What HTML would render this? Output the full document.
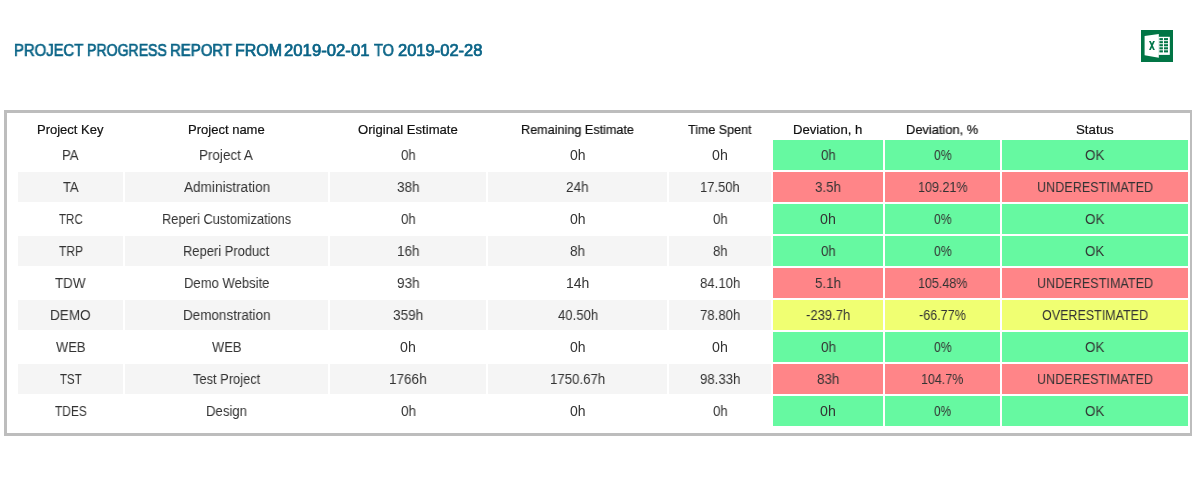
<!DOCTYPE html>
<html><head><meta charset="utf-8"><style>
html,body{margin:0;padding:0;background:#fff;width:1192px;height:479px;overflow:hidden;position:relative;}
body{font-family:"Liberation Sans",sans-serif;color:#333;}
span{position:absolute;white-space:nowrap;transform-origin:0 50%;will-change:transform;}
.tw{top:41px;font-size:16px;line-height:20px;color:#0a6487;-webkit-text-stroke:0.7px #0a6487;}
.box{position:absolute;left:4px;top:110px;width:1183px;height:320px;border:3px solid #bdbdbd;}
.c{position:absolute;height:30px;}
.b{font-size:14px;line-height:30px;height:30px;color:#333;}
.h{font-size:13px;line-height:18px;top:121px;color:#111;-webkit-text-stroke:0.2px #111;}
.z{background:#f5f5f5;}
.g{background:#66f9a1;}
.r{background:#ff8588;}
.y{background:#f0ff72;}
.xl{position:absolute;left:1141px;top:30px;width:32px;height:32px;}
</style></head><body>

<svg class="xl" viewBox="0 0 32 32"><rect width="32" height="32" fill="#017545"/>
<rect x="17.5" y="6.8" width="11.3" height="18.1" fill="#fff"/>
<g fill="#017545"><rect x="18.4" y="8.1" width="3.5" height="2.1"/><rect x="23" y="8.1" width="4" height="2.1"/><rect x="18.4" y="11.15" width="3.5" height="2.1"/><rect x="23" y="11.15" width="4" height="2.1"/><rect x="18.4" y="14.2" width="3.5" height="2.1"/><rect x="23" y="14.2" width="4" height="2.1"/><rect x="18.4" y="17.25" width="3.5" height="2.1"/><rect x="23" y="17.25" width="4" height="2.1"/><rect x="18.4" y="20.3" width="3.5" height="2.1"/><rect x="23" y="20.3" width="4" height="2.1"/></g>
<path d="M3.6 6.1 L17.8 4 L17.8 27.8 L3.6 25.2 Z" fill="#fff"/>
<path d="M8 10.9 L9.8 10.9 L13.9 20 L12.1 20 Z M12.1 10.9 L13.9 10.9 L9.8 20 L8 20 Z" fill="#03774a"/>
</svg>
<div class="box"></div>
<div class="c g" style="left:773px;top:140px;width:110px"></div>
<div class="c g" style="left:885px;top:140px;width:115px"></div>
<div class="c g" style="left:1002px;top:140px;width:186px"></div>
<div class="c z" style="left:18px;top:172px;width:105px"></div>
<div class="c z" style="left:125px;top:172px;width:203px"></div>
<div class="c z" style="left:330px;top:172px;width:156px"></div>
<div class="c z" style="left:488px;top:172px;width:179px"></div>
<div class="c z" style="left:669px;top:172px;width:102px"></div>
<div class="c r" style="left:773px;top:172px;width:110px"></div>
<div class="c r" style="left:885px;top:172px;width:115px"></div>
<div class="c r" style="left:1002px;top:172px;width:186px"></div>
<div class="c g" style="left:773px;top:204px;width:110px"></div>
<div class="c g" style="left:885px;top:204px;width:115px"></div>
<div class="c g" style="left:1002px;top:204px;width:186px"></div>
<div class="c z" style="left:18px;top:236px;width:105px"></div>
<div class="c z" style="left:125px;top:236px;width:203px"></div>
<div class="c z" style="left:330px;top:236px;width:156px"></div>
<div class="c z" style="left:488px;top:236px;width:179px"></div>
<div class="c z" style="left:669px;top:236px;width:102px"></div>
<div class="c g" style="left:773px;top:236px;width:110px"></div>
<div class="c g" style="left:885px;top:236px;width:115px"></div>
<div class="c g" style="left:1002px;top:236px;width:186px"></div>
<div class="c r" style="left:773px;top:268px;width:110px"></div>
<div class="c r" style="left:885px;top:268px;width:115px"></div>
<div class="c r" style="left:1002px;top:268px;width:186px"></div>
<div class="c z" style="left:18px;top:300px;width:105px"></div>
<div class="c z" style="left:125px;top:300px;width:203px"></div>
<div class="c z" style="left:330px;top:300px;width:156px"></div>
<div class="c z" style="left:488px;top:300px;width:179px"></div>
<div class="c z" style="left:669px;top:300px;width:102px"></div>
<div class="c y" style="left:773px;top:300px;width:110px"></div>
<div class="c y" style="left:885px;top:300px;width:115px"></div>
<div class="c y" style="left:1002px;top:300px;width:186px"></div>
<div class="c g" style="left:773px;top:332px;width:110px"></div>
<div class="c g" style="left:885px;top:332px;width:115px"></div>
<div class="c g" style="left:1002px;top:332px;width:186px"></div>
<div class="c z" style="left:18px;top:364px;width:105px"></div>
<div class="c z" style="left:125px;top:364px;width:203px"></div>
<div class="c z" style="left:330px;top:364px;width:156px"></div>
<div class="c z" style="left:488px;top:364px;width:179px"></div>
<div class="c z" style="left:669px;top:364px;width:102px"></div>
<div class="c r" style="left:773px;top:364px;width:110px"></div>
<div class="c r" style="left:885px;top:364px;width:115px"></div>
<div class="c r" style="left:1002px;top:364px;width:186px"></div>
<div class="c g" style="left:773px;top:396px;width:110px"></div>
<div class="c g" style="left:885px;top:396px;width:115px"></div>
<div class="c g" style="left:1002px;top:396px;width:186px"></div>
<span class="tw" style="left:13.50px;transform:scaleX(0.9271)">PROJECT</span>
<span class="tw" style="left:86.93px;transform:scaleX(0.8806)">PROGRESS</span>
<span class="tw" style="left:170.35px;transform:scaleX(0.9339)">REPORT</span>
<span class="tw" style="left:235.17px;transform:scaleX(0.9909)">FROM</span>
<span class="tw" style="left:283.78px;transform:scaleX(1.0445)">2019-02-01</span>
<span class="tw" style="left:374.38px;transform:scaleX(0.9081)">TO</span>
<span class="tw" style="left:397.76px;transform:scaleX(1.0323)">2019-02-28</span>
<span class="h" style="left:36.84px;transform:scaleX(0.9980)">Project Key</span>
<span class="h" style="left:188.32px;transform:scaleX(1.0015)">Project name</span>
<span class="h" style="left:358.14px;transform:scaleX(1.0081)">Original Estimate</span>
<span class="h" style="left:520.71px;transform:scaleX(0.9708)">Remaining Estimate</span>
<span class="h" style="left:687.89px;transform:scaleX(0.9605)">Time Spent</span>
<span class="h" style="left:792.88px;transform:scaleX(1.0089)">Deviation, h</span>
<span class="h" style="left:906.10px;transform:scaleX(0.9883)">Deviation, %</span>
<span class="h" style="left:1076.37px;transform:scaleX(1.0218)">Status</span>
<span class="b" style="left:61.80px;top:140px;transform:scaleX(0.9426)">PA</span>
<span class="b" style="left:198.86px;top:140px;transform:scaleX(0.9591)">Project A</span>
<span class="b" style="left:401.10px;top:140px;transform:scaleX(0.9468)">0h</span>
<span class="b" style="left:569.83px;top:140px;transform:scaleX(0.9933)">0h</span>
<span class="b" style="left:712.28px;top:140px;transform:scaleX(1.0132)">0h</span>
<span class="b" style="left:821.10px;top:140px;transform:scaleX(0.9468)">0h</span>
<span class="b" style="left:934.20px;top:140px;transform:scaleX(0.8749)">0%</span>
<span class="b" style="left:1085.48px;top:140px;transform:scaleX(0.9555)">OK</span>
<span class="b" style="left:63.01px;top:172px;transform:scaleX(0.9248)">TA</span>
<span class="b" style="left:184.49px;top:172px;transform:scaleX(0.9704)">Administration</span>
<span class="b" style="left:396.72px;top:172px;transform:scaleX(0.9690)">38h</span>
<span class="b" style="left:566.13px;top:172px;transform:scaleX(0.9705)">24h</span>
<span class="b" style="left:700.08px;top:172px;transform:scaleX(0.9273)">17.50h</span>
<span class="b" style="left:814.57px;top:172px;transform:scaleX(0.9484)">3.5h</span>
<span class="b" style="left:917.71px;top:172px;transform:scaleX(0.8979)">109.21%</span>
<span class="b" style="left:1037.03px;top:172px;transform:scaleX(0.9011)">UNDERESTIMATED</span>
<span class="b" style="left:58.75px;top:204px;transform:scaleX(0.8269)">TRC</span>
<span class="b" style="left:161.99px;top:204px;transform:scaleX(0.9174)">Reperi Customizations</span>
<span class="b" style="left:401.10px;top:204px;transform:scaleX(0.9468)">0h</span>
<span class="b" style="left:570.44px;top:204px;transform:scaleX(0.9913)">0h</span>
<span class="b" style="left:713.10px;top:204px;transform:scaleX(0.9468)">0h</span>
<span class="b" style="left:820.35px;top:204px;transform:scaleX(1.0152)">0h</span>
<span class="b" style="left:934.03px;top:204px;transform:scaleX(0.8705)">0%</span>
<span class="b" style="left:1085.16px;top:204px;transform:scaleX(0.9589)">OK</span>
<span class="b" style="left:59.40px;top:236px;transform:scaleX(0.8592)">TRP</span>
<span class="b" style="left:182.95px;top:236px;transform:scaleX(0.9230)">Reperi Product</span>
<span class="b" style="left:396.95px;top:236px;transform:scaleX(0.9652)">16h</span>
<span class="b" style="left:570.32px;top:236px;transform:scaleX(0.9632)">8h</span>
<span class="b" style="left:712.78px;top:236px;transform:scaleX(0.9380)">8h</span>
<span class="b" style="left:821.10px;top:236px;transform:scaleX(0.9468)">0h</span>
<span class="b" style="left:933.86px;top:236px;transform:scaleX(0.8769)">0%</span>
<span class="b" style="left:1084.62px;top:236px;transform:scaleX(0.9450)">OK</span>
<span class="b" style="left:55.17px;top:268px;transform:scaleX(0.9554)">TDW</span>
<span class="b" style="left:183.70px;top:268px;transform:scaleX(0.9326)">Demo Website</span>
<span class="b" style="left:396.94px;top:268px;transform:scaleX(0.9711)">93h</span>
<span class="b" style="left:566.40px;top:268px;transform:scaleX(0.9861)">14h</span>
<span class="b" style="left:699.66px;top:268px;transform:scaleX(0.9417)">84.10h</span>
<span class="b" style="left:814.82px;top:268px;transform:scaleX(0.9506)">5.1h</span>
<span class="b" style="left:917.64px;top:268px;transform:scaleX(0.8946)">105.48%</span>
<span class="b" style="left:1037.08px;top:268px;transform:scaleX(0.9012)">UNDERESTIMATED</span>
<span class="b" style="left:49.74px;top:300px;transform:scaleX(0.9691)">DEMO</span>
<span class="b" style="left:182.74px;top:300px;transform:scaleX(0.9613)">Demonstration</span>
<span class="b" style="left:392.99px;top:300px;transform:scaleX(0.9737)">359h</span>
<span class="b" style="left:557.56px;top:300px;transform:scaleX(0.9389)">40.50h</span>
<span class="b" style="left:699.63px;top:300px;transform:scaleX(0.9414)">78.80h</span>
<span class="b" style="left:806.15px;top:300px;transform:scaleX(0.9306)">-239.7h</span>
<span class="b" style="left:919.03px;top:300px;transform:scaleX(0.8972)">-66.77%</span>
<span class="b" style="left:1042.00px;top:300px;transform:scaleX(0.8933)">OVERESTIMATED</span>
<span class="b" style="left:56.43px;top:332px;transform:scaleX(0.9250)">WEB</span>
<span class="b" style="left:212.09px;top:332px;transform:scaleX(0.9252)">WEB</span>
<span class="b" style="left:400.31px;top:332px;transform:scaleX(1.0128)">0h</span>
<span class="b" style="left:570.22px;top:332px;transform:scaleX(0.9982)">0h</span>
<span class="b" style="left:712.02px;top:332px;transform:scaleX(1.0156)">0h</span>
<span class="b" style="left:820.66px;top:332px;transform:scaleX(0.9668)">0h</span>
<span class="b" style="left:933.75px;top:332px;transform:scaleX(0.8745)">0%</span>
<span class="b" style="left:1085.42px;top:332px;transform:scaleX(0.9552)">OK</span>
<span class="b" style="left:59.93px;top:364px;transform:scaleX(0.8196)">TST</span>
<span class="b" style="left:193.31px;top:364px;transform:scaleX(0.9194)">Test Project</span>
<span class="b" style="left:389.45px;top:364px;transform:scaleX(0.9661)">1766h</span>
<span class="b" style="left:549.89px;top:364px;transform:scaleX(0.9470)">1750.67h</span>
<span class="b" style="left:700.05px;top:364px;transform:scaleX(0.9437)">98.33h</span>
<span class="b" style="left:817.11px;top:364px;transform:scaleX(0.9596)">83h</span>
<span class="b" style="left:921.17px;top:364px;transform:scaleX(0.8922)">104.7%</span>
<span class="b" style="left:1036.66px;top:364px;transform:scaleX(0.9005)">UNDERESTIMATED</span>
<span class="b" style="left:55.15px;top:396px;transform:scaleX(0.8498)">TDES</span>
<span class="b" style="left:206.40px;top:396px;transform:scaleX(0.9400)">Design</span>
<span class="b" style="left:400.55px;top:396px;transform:scaleX(0.9674)">0h</span>
<span class="b" style="left:570.47px;top:396px;transform:scaleX(0.9995)">0h</span>
<span class="b" style="left:713.10px;top:396px;transform:scaleX(0.9468)">0h</span>
<span class="b" style="left:820.09px;top:396px;transform:scaleX(1.0126)">0h</span>
<span class="b" style="left:934.20px;top:396px;transform:scaleX(0.8491)">0%</span>
<span class="b" style="left:1084.95px;top:396px;transform:scaleX(0.9519)">OK</span>
</body></html>
